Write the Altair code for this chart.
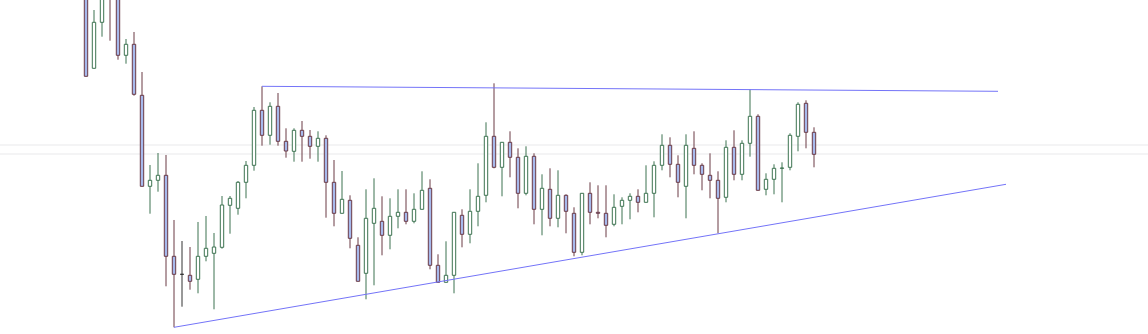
import altair as alt
import pandas as pd

open_ = [430, 331.7, 377.7, 425, 405, 344.7, 355.7, 304.7, 213.7, 219.7,
         224.7, 143.7, 125.7, 124.7, 120.7, 143.7, 146.7, 152.7, 194.7, 191.7,
         217.7, 234.7, 289.7, 264.7, 293.7, 258.7, 248.7, 269.7, 263.7, 253.7,
         261.7, 217.7, 186.7, 199.7, 154.7, 126.7, 176.7, 178.7, 164.7, 183.7,
         187.7, 178.7, 190.7, 211.7, 134.7, 117.7, 124.7, 184.7, 165.7, 188.7,
         204.7, 263.7, 232.7, 257.7, 242.7, 206.7, 243.7, 190.7, 210.7, 181.7,
         204.7, 186.7, 147.7, 206.7, 187.7, 186.7, 175.7, 193.7, 199.7, 203.7,
         197.7, 206.7, 234.7, 254.7, 235.7, 213.7, 251.7, 234.7, 224.7, 219.7,
         202.7, 252.7, 225.7, 256.7, 283.7, 210.7, 220.7, 231.7, 232.7, 263.7,
         296.7, 267.7]
high = [440, 390, 425, 430, 410, 361, 368, 328, 235, 247,
        245, 180, 159, 153, 178, 184, 167, 204, 204, 219,
        239, 293, 313.7, 297.7, 307, 271.7, 271.7, 279, 270, 268.7,
        264.7, 240, 229, 204.7, 162.7, 210.7, 221.7, 203.7, 201.7, 210.7,
        210.7, 206.7, 228.7, 220.7, 145.7, 158.7, 187.7, 190.7, 210.7, 236.7,
        277.7, 316.7, 257.7, 268.7, 251.7, 253.7, 246.7, 225.7, 231.7, 229.7,
        205.7, 192.7, 206.7, 217.7, 214.7, 214.7, 205.7, 202.7, 206.7, 210.7,
        234.7, 238.7, 265.7, 262.7, 244.7, 265.7, 268.7, 236.7, 246.7, 228.7,
        259.7, 269.7, 259.7, 310.7, 285.7, 226.7, 235.7, 237.7, 266.7, 297.7,
        299.7, 272.7]
low = [323.7, 331.7, 363.3, 359.3, 340.3, 336.3, 304.3, 213.7, 186.3, 208.3,
       113.7, 72.7, 93.3, 110.3, 106.7, 138.7, 90.7, 151.3, 166.3, 185.3,
       201.7, 229.3, 254.3, 255.3, 254.3, 242.3, 238.3, 238.3, 241.3, 238.3,
       182.3, 173.7, 186.7, 151.7, 118.7, 100.7, 114.7, 144.7, 150.7, 171.7,
       175.7, 176.7, 190.7, 130.7, 117.7, 117.7, 106.7, 152.7, 156.7, 173.7,
       197.7, 231.7, 203.7, 222.7, 191.7, 204.7, 175.7, 164.7, 173.7, 172.7,
       166.7, 143.7, 144.7, 175.7, 181.7, 162.7, 173.7, 175.7, 180.7, 187.7,
       197.7, 182.7, 229.7, 222.7, 202.7, 181.7, 225.7, 209.7, 201.7, 166.7,
       197.7, 219.7, 219.7, 243.3, 209.7, 204.7, 205.7, 197.7, 229.7, 248.7,
       251.7, 232.7]
close = [323.7, 377.7, 415, 405, 344.7, 355.7, 305.7, 213.7, 219.7, 224.7,
         143.7, 125.7, 125.7, 118.7, 143.7, 151.7, 153, 195, 201.7, 217.7,
         234.7, 289.7, 264.7, 293.7, 258.7, 249, 269.7, 263.7, 253.7, 261.7,
         217.7, 186.7, 200.7, 161.7, 118.7, 181.7, 191.7, 164.7, 183.7, 187.7,
         178.7, 190.7, 209.7, 134.7, 117.7, 124.7, 187.7, 165.7, 188.7, 203.7,
         263.7, 232.7, 257.7, 242.7, 206.7, 243.7, 190.7, 211.7, 181.7, 204.7,
         188.7, 147.7, 206.7, 187.7, 186.7, 174.7, 192.7, 199.7, 203.7, 197.7,
         206.7, 234.7, 254.7, 235.7, 217.7, 254.7, 234.7, 225.7, 219.7, 201.7,
         252.7, 225.7, 256.7, 283.7, 209.7, 220.7, 231.7, 232.0, 264.7, 295.7,
         267.7, 245.7]

# trendlines (candle index, price)
upper_idx = [22, 114]
upper_price = [313.7, 308.7]
lower_idx = [11, 115]
lower_price = [72.7, 215.7]

# faint horizontal reference lines (price)
ref_prices = [255, 246]

rows = []
for i, (o, h, l, c) in enumerate(zip(open_, high, low, close)):
    d = "up" if c > o else ("down" if c < o else "flat")
    rows.append({"i": i, "open": o, "high": h, "low": l, "close": c,
                 "lo": min(o, c), "hi": max(o, c), "dir": d})
df = pd.DataFrame(rows)

xs = alt.Scale(domain=[-10.75, 132.75], nice=False, zero=False, padding=0)
ys = alt.Scale(domain=[66, 400], nice=False, zero=False, padding=0)
dir_dom = ["up", "down", "flat"]
stroke_scale = alt.Scale(domain=dir_dom, range=["#3d7350", "#6b3a45", "#333333"])
fill_scale = alt.Scale(domain=dir_dom, range=["#ffffff", "#a7b9ec", "#ffffff"])

ref = alt.Chart(pd.DataFrame({"p": ref_prices})).mark_rule(
    color="#f0f0f2", strokeWidth=1.5).encode(y=alt.Y("p:Q", scale=ys, axis=None))

wick = alt.Chart(df).mark_rule(strokeWidth=1, clip=True).encode(
    x=alt.X("i:Q", scale=xs, axis=None),
    y=alt.Y("low:Q", scale=ys, axis=None),
    y2="high:Q",
    color=alt.Color("dir:N", scale=stroke_scale, legend=None),
)

body = alt.Chart(df).mark_bar(size=3.4, strokeWidth=1, clip=True).encode(
    x=alt.X("i:Q", scale=xs, axis=None),
    y=alt.Y("lo:Q", scale=ys, axis=None),
    y2="hi:Q",
    fill=alt.Fill("dir:N", scale=fill_scale, legend=None),
    stroke=alt.Stroke("dir:N", scale=stroke_scale, legend=None),
)

up_df = pd.DataFrame({"i": upper_idx, "p": upper_price})
lo_df = pd.DataFrame({"i": lower_idx, "p": lower_price})
upper = alt.Chart(up_df).mark_line(color="#7474f8", strokeWidth=1, clip=True).encode(
    x=alt.X("i:Q", scale=xs, axis=None), y=alt.Y("p:Q", scale=ys, axis=None))
lower = alt.Chart(lo_df).mark_line(color="#7474f8", strokeWidth=1, clip=True).encode(
    x=alt.X("i:Q", scale=xs, axis=None), y=alt.Y("p:Q", scale=ys, axis=None))

chart = alt.layer(ref, wick, body, upper, lower).properties(
    width=1148, height=334, padding=0, autosize="none", background="white"
).configure_view(stroke=None)

chart.save("out.html", embed_options={"renderer": "svg", "actions": False})
